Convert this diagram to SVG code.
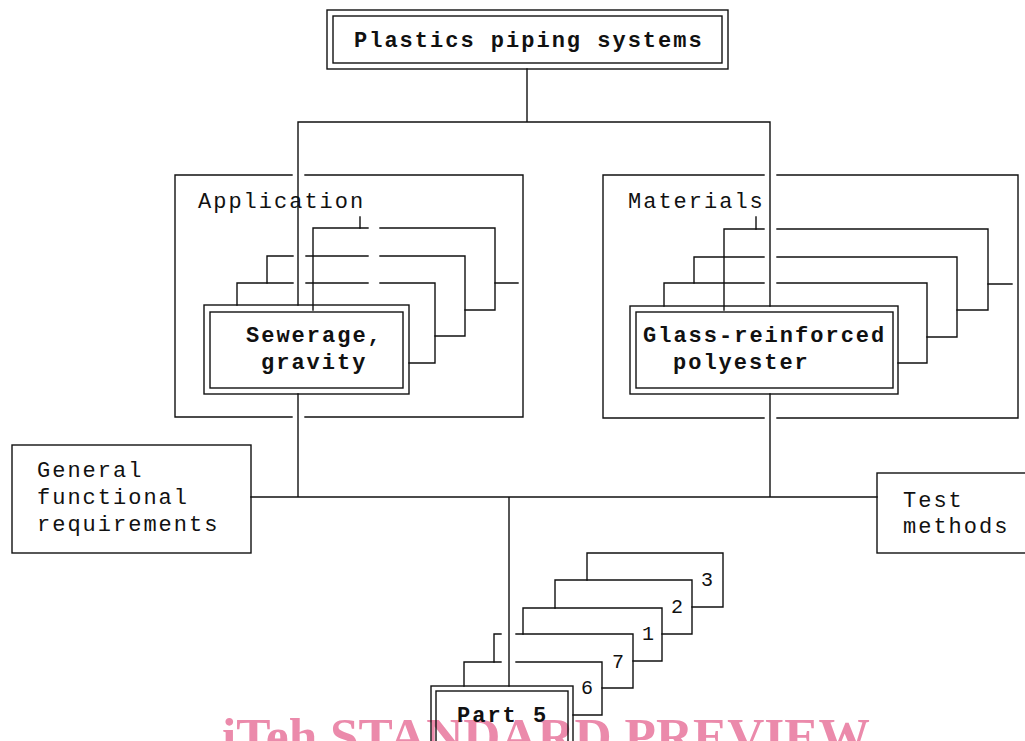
<svg xmlns="http://www.w3.org/2000/svg" width="1025" height="741" viewBox="0 0 1025 741">
<style>
  .ln{fill:none;stroke:#111;stroke-width:1.4;stroke-linecap:square}
  .bx{fill:none;stroke:#111;stroke-width:1.4}
  .t{font-family:"Liberation Mono","Courier New",monospace;font-size:22px;letter-spacing:2px;fill:#111}
  .b{font-weight:bold}
  .n{font-family:"Liberation Mono","Courier New",monospace;font-size:20px;fill:#111}
  .wm{font-family:"Liberation Serif","Times New Roman",serif;font-weight:bold;font-size:50px;fill:#e4638f;fill-opacity:0.75}
</style>
<rect width="1025" height="741" fill="#fff"/>

<text class="wm" x="222" y="753" textLength="648" lengthAdjust="spacingAndGlyphs">iTeh STANDARD PREVIEW</text>

<g id="connectors">
  <path class="ln" d="M527 69 V122 M298 122 H770 M298 122 V305 M770 122 V306"/>
  <path class="ln" d="M298 394 V497 M770 394 V497 M251 497 H877 M509 497 V686"/>
  <path class="ln" d="M495 283 H518 M360 217 V228"/>
  <path class="ln" d="M988 284 H1012 M756 217 V229"/>
</g>

<g id="node-top">
  <rect class="bx" x="327" y="10" width="401" height="59"/>
  <rect class="bx" x="333" y="16" width="389" height="47"/>
  <text class="t b" x="354" y="47">Plastics piping systems</text>
</g>

<g id="node-application">
  <path class="ln" d="M175 175 H292 M305 175 H523 V417 H305 M292 417 H175 V175"/>
  <text class="t" x="198" y="208">Application</text>
  <g id="application-stack">
    <path class="ln" d="M313 310 V228 H368 M380 228 H495 V310 H465"/>
    <path class="ln" d="M267 283 V256 H293 M306 256 H368 M380 256 H465 V336 H435"/>
    <path class="ln" d="M237 305 V283 H293 M306 283 H368 M380 283 H435 V363 H409"/>
  </g>
</g>

<g id="node-sewerage">
  <rect class="bx" x="204" y="305" width="205" height="89" fill="#fff"/>
  <rect class="bx" x="210" y="312" width="193" height="76"/>
  <text class="t b" x="246" y="342">Sewerage,</text>
  <text class="t b" x="261" y="369">gravity</text>
</g>

<g id="node-materials">
  <path class="ln" d="M603 175 H764 M777 175 H1018 V418 H777 M764 418 H603 V175"/>
  <text class="t" x="628" y="208">Materials</text>
  <g id="materials-stack">
    <path class="ln" d="M724 310 V229 H764 M777 229 H988 V310 H957"/>
    <path class="ln" d="M694 283 V257 H764 M777 257 H957 V337 H927"/>
    <path class="ln" d="M664 306 V283 H764 M777 283 H927 V363 H898"/>
  </g>
</g>

<g id="node-glass">
  <rect class="bx" x="630" y="306" width="268" height="88" fill="#fff"/>
  <rect class="bx" x="636" y="312" width="257" height="76"/>
  <text class="t b" x="643" y="342">Glass-reinforced</text>
  <text class="t b" x="673" y="369">polyester</text>
</g>

<g id="node-general">
  <rect class="bx" x="12" y="445" width="239" height="108"/>
  <text class="t" x="37" y="477">General</text>
  <text class="t" x="37" y="504">functional</text>
  <text class="t" x="37" y="531">requirements</text>
</g>

<g id="node-test">
  <rect class="bx" x="877" y="473" width="170" height="80"/>
  <text class="t" x="903" y="507">Test</text>
  <text class="t" x="903" y="533">methods</text>
</g>

<g id="parts-stack">
  <g id="part-3">
    <path class="ln" d="M587 580 V553 H723 V607 H692"/>
    <text class="n" x="701" y="586">3</text>
  </g>
  <g id="part-2">
    <path class="ln" d="M555 608 V580 H692 V634 H662"/>
    <text class="n" x="671" y="613">2</text>
  </g>
  <g id="part-1">
    <path class="ln" d="M523 634 V608 H662 V661 H633"/>
    <text class="n" x="642" y="640">1</text>
  </g>
  <g id="part-7">
    <path class="ln" d="M494 662 V634 H501 M516 634 H633 V688 H602"/>
    <text class="n" x="612" y="668">7</text>
  </g>
  <g id="part-6">
    <path class="ln" d="M464 686 V662 H501 M516 662 H602 V715 H573"/>
    <text class="n" x="581" y="694">6</text>
  </g>
</g>

<g id="node-part5">
  <rect class="bx" x="431" y="686" width="142" height="80"/>
  <rect class="bx" x="436" y="691" width="132" height="70"/>
  <text class="t b" x="457" y="722">Part 5</text>
</g>
</svg>
